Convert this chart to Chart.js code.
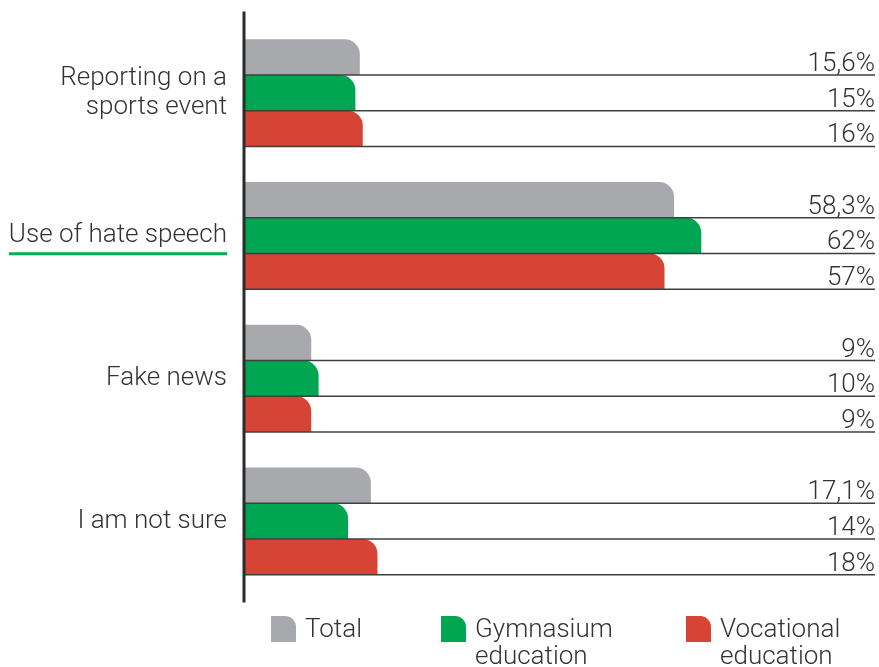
<!DOCTYPE html>
<html>
<head>
<meta charset="utf-8">
<script src="https://cdn.jsdelivr.net/npm/chart.js@4.4.1/dist/chart.umd.min.js"></script>
<style>
  html, body { margin: 0; padding: 0; background: #fff; }
  #wrap { position: relative; width: 879px; height: 667px; overflow: hidden; }
  #legend { position: absolute; left: 0; top: 615px; width: 879px; font-family: Roboto, sans-serif; font-weight: 300; font-size: 26px; line-height: 27px; color: #333; }
  .item { position: absolute; top: 0; display: flex; align-items: flex-start; }
  .swatch { width: 25px; height: 26px; border-top-right-radius: 11px; margin-right: 9px; margin-top: 1px; }
</style>
</head>
<body>
<div id="wrap">
  <canvas id="bar-chart" width="879" height="667"></canvas>
  <div id="legend"></div>
</div>
<script>
const categories = [['Reporting on a', 'sports event'], 'Use of hate speech', 'Fake news', 'I am not sure']
const seriesNames = ['Total', 'Gymnasium\neducation', 'Vocational\neducation']
const totalValues = [15.6, 58.3, 9, 17.1]
const gymnasiumValues = [15, 62, 10, 14]
const vocationalValues = [16, 57, 9, 18]
const seriesColors = ['#a7a9ac', '#00a651', '#d54434']
const highlightedCategory = 'Use of hate speech'

const fontFamily = 'Roboto, sans-serif'
const textColor = '#333333'

function formatPercent (v) {
  return String(v).replace('.', ',') + '%'
}

const seriesValues = [totalValues, gymnasiumValues, vocationalValues]
const barDatasets = []
for (let i = 0; i < seriesValues.length; i++) {
  barDatasets.push({
    label: seriesNames[i],
    data: seriesValues[i],
    backgroundColor: seriesColors[i],
    borderWidth: 0,
    borderSkipped: false,
    borderRadius: { topLeft: 0, topRight: 15, bottomLeft: 0, bottomRight: 0 },
    categoryPercentage: 0.75,
    barPercentage: 1,
  })
}

// rules under every bar, value text at the right, axis line and label underline
const decorPlugin = {
  id: 'decor',
  afterDatasetsDraw (chart) {
    const ctx = chart.ctx
    const area = chart.chartArea
    ctx.save()
    ctx.font = '300 26px ' + fontFamily
    ctx.textAlign = 'right'
    ctx.textBaseline = 'alphabetic'
    chart.data.datasets.forEach((ds, di) => {
      const meta = chart.getDatasetMeta(di)
      meta.data.forEach((bar, i) => {
        const bottom = bar.y + bar.height / 2
        ctx.strokeStyle = '#3f3f3f'
        ctx.lineWidth = 1.5
        ctx.beginPath()
        ctx.moveTo(area.left, bottom)
        ctx.lineTo(area.right, bottom)
        ctx.stroke()
        ctx.fillStyle = textColor
        ctx.fillText(formatPercent(ds.data[i]), area.right, bottom - 4)
      })
    })

    ctx.strokeStyle = '#2b2b2b'
    ctx.lineWidth = 3
    ctx.beginPath()
    ctx.moveTo(area.left - 1, area.top - 10)
    ctx.lineTo(area.left - 1, area.bottom + 10)
    ctx.stroke()

    const yScale = chart.scales.y
    const idx = categories.indexOf(highlightedCategory)
    const yc = yScale.getPixelForValue(idx)
    const w = ctx.measureText(highlightedCategory).width
    ctx.strokeStyle = '#00b050'
    ctx.lineWidth = 3
    ctx.beginPath()
    ctx.moveTo(area.left - 18 - w, yc + 18)
    ctx.lineTo(area.left - 18, yc + 18)
    ctx.stroke()
    ctx.restore()
  },
}

const barChartConfig = {
  type: 'bar',
  data: {
    labels: categories,
    datasets: barDatasets,
  },
  options: {
    indexAxis: 'y',
    responsive: false,
    animation: false,
    layout: {
      padding: { top: 21.5, bottom: 74.5, right: 4, left: 0 },
    },
    plugins: {
      legend: { display: false },
      tooltip: { enabled: false },
    },
    scales: {
      x: {
        display: false,
        min: 0,
        max: 85.6,
      },
      y: {
        afterFit (scale) {
          scale.width = 245
          scale.paddingTop = 0
          scale.paddingBottom = 0
        },
        border: { display: false },
        grid: { display: false, drawTicks: false },
        ticks: {
          padding: 18,
          color: textColor,
          font: { family: fontFamily, size: 26, weight: 300, lineHeight: 1.12 },
        },
      },
    },
  },
  plugins: [decorPlugin],
}

const barChartCanvas = document.getElementById('bar-chart').getContext('2d')
const barChart = new Chart(barChartCanvas, barChartConfig)

// legend built from the series arrays
const legendLefts = [271, 441, 686]
const legendBox = document.getElementById('legend')
seriesNames.forEach((name, i) => {
  const item = document.createElement('div')
  item.className = 'item'
  item.style.left = legendLefts[i] + 'px'
  const sw = document.createElement('div')
  sw.className = 'swatch'
  sw.style.background = seriesColors[i]
  const txt = document.createElement('div')
  txt.innerHTML = name.split('\n').join('<br>')
  item.appendChild(sw)
  item.appendChild(txt)
  legendBox.appendChild(item)
})
</script>
</body>
</html>
